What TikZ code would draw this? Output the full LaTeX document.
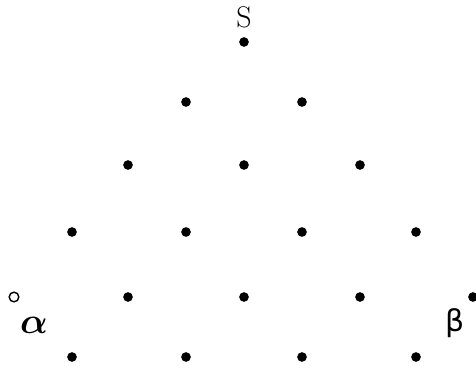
\documentclass[tikz,border=0pt]{standalone}
\usepackage{tikz}
\usepackage{amsmath}
\usepackage{fontspec}
\newfontfamily\greeksans{DejaVu Sans}
\usetikzlibrary{positioning}

\begin{document}
\begin{tikzpicture}[
      x=0.02cm, y=-0.02cm,
      pt/.style={circle, fill=black, inner sep=0pt, minimum size=5.5},
      opt/.style={circle, draw=black, thick, fill=white, inner sep=0pt, minimum size=5.5},
      lbl/.style={font=\fontsize{17}{19}\selectfont},
    ]
    \useasboundingbox (0,0) rectangle (476,386);
    % apex
    \node[pt] (s) at (244,42) {};
    \node[lbl] (slabel) at (244,17) {S};
    % rows of the lattice
    \foreach \x [count=\i] in {186,302} \node[pt] (r1-\i) at (\x,102) {};
    \foreach \x [count=\i] in {128,244,360} \node[pt] (r2-\i) at (\x,165) {};
    \foreach \x [count=\i] in {72,186,302,416} \node[pt] (r3-\i) at (\x,232) {};
    \node[opt] (r4-1) at (14,297) {};
    \foreach \x [count=\i from 2] in {128,244,360,473} \node[pt] (r4-\i) at (\x,297) {};
    \foreach \x [count=\i] in {72,186,302,416} \node[pt] (r5-\i) at (\x,357) {};
    % corner labels
    \node[font=\fontsize{22}{24}\selectfont] (alabel) at (34,325) {$\boldsymbol{\alpha}$};
    \node[lbl] (blabel) at (455,323) {\greeksans β};
  \end{tikzpicture}
\end{document}
